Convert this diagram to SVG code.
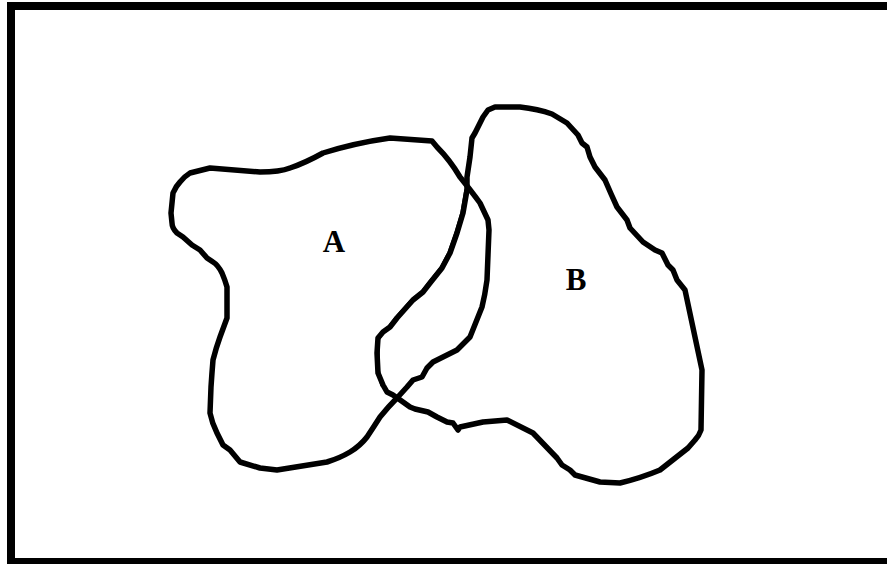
<svg xmlns="http://www.w3.org/2000/svg" width="887" height="564" viewBox="0 0 887 564">
<style>
.frame{fill:none;stroke:#000;stroke-width:8}
.blob{fill:none;stroke:#000;stroke-width:5.5;stroke-linejoin:round;stroke-linecap:round}
.lbl{font-family:"Liberation Serif","Times New Roman",serif;font-weight:bold;font-size:31px;fill:#000;text-anchor:middle}
</style>
<rect width="887" height="564" fill="#fff"/>
<rect class="frame" x="11" y="6" width="890" height="556"/>
<g id="setA">
<path class="blob" d="M210,168 L260,172 Q280,172 290,168 Q305,163 323,153 Q355,143 390,138 L432,141 L437,147 Q450,160 460,177 Q472,192 480,203 L488,220 L489,230 L487,280 Q485,295 482,307 L472,332 L470,337 Q460,347 457,350 L433,362 L427,368 L422,377 L413,380 L407,387 L397,398 Q388,407 380,417 Q373,428 367,437 Q360,446 350,452 Q340,458 327,462 L277,470 L260,468 L240,462 L230,450 L223,445 L217,433 Q212,423 210,413 L211,387 Q212,372 213,360 Q216,348 220,337 L227,318 Q227,300 227,287 Q225,280 222,273 Q218,265 213,262 L207,258 L200,250 L192,245 L183,237 L177,233 Q172,228 172,223 L171,213 L173,193 Q176,186 180,182 Q185,176 190,173 Z"/>
<text class="lbl" x="334" y="252">A</text>
</g>
<g id="setB">
<path class="blob" d="M495,107 L520,107 Q538,109 552,114 L567,123 L578,135 L582,143 L587,147 L590,157 L595,167 L605,180 Q611,194 617,207 L627,220 L630,228 L643,242 L655,250 L662,253 L668,265 L673,270 L677,280 L685,290 L702,370 L701,430 Q699,436 695,440 L688,448 L660,470 Q641,478 620,483 L600,482 L575,475 L570,470 L562,465 L557,458 L533,433 L507,420 L483,422 L460,427 L458,430 L453,423 L447,422 L437,417 L428,412 L415,409 L410,407 L403,402 L393,395 L387,392 L383,385 L378,373 L377,353 L378,338 L383,332 L390,327 L397,318 L413,300 L423,292 L430,283 L442,268 L450,253 L457,233 L463,213 L467,190 L467,177 L470,157 L472,138 L475,133 L483,117 L488,110 Z"/>
<path class="blob" d="M466,190 L462,213 L456,233 L449,253 L441,268 L429,283 L422,292 L412,300 L396,318 L389,327 L382,333 L378,340 L378,370 L382,385" style="stroke-width:3.5"/>
<text class="lbl" x="576" y="290">B</text>
</g>
</svg>
